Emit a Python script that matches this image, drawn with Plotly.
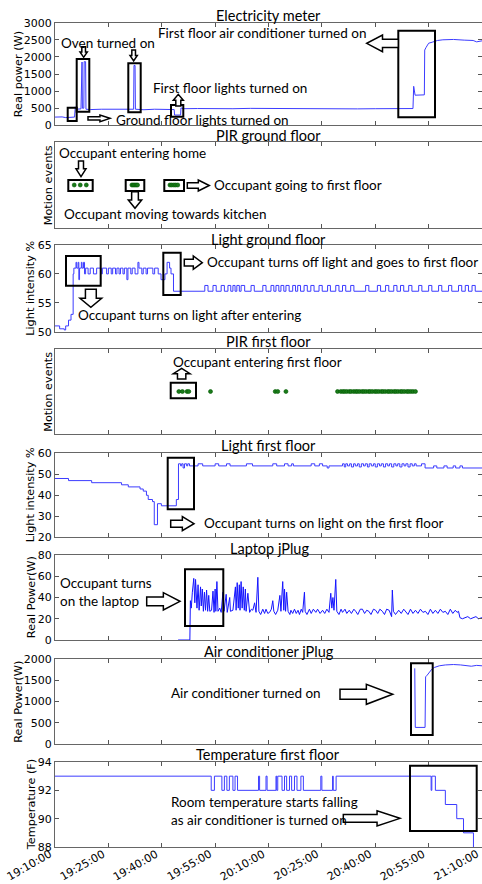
import plotly.graph_objects as go

W, H = 482, 884
ML = 55

# ---------------- data (minutes after 19:10:00) ----------------
tick_minutes = [0, 15, 30, 45, 60, 75, 90, 105, 120]
tick_labels = ["19:10:00", "19:25:00", "19:40:00", "19:55:00", "20:10:00",
               "20:25:00", "20:40:00", "20:55:00", "21:10:00"]

elec_t = [0, 2.0, 3.0, 4.5, 5.5, 5.7, 6.0, 7.3, 7.4, 7.6,
          7.7, 8.1, 8.2, 8.6, 8.7, 10, 13, 16, 19, 22.1,
          22.2, 22.5, 22.6, 25, 28, 31, 33.5, 33.6, 35.3, 35.4,
          36, 40, 45, 50, 55, 60, 65, 70, 75, 80,
          85, 90, 95, 100.6, 100.8, 101.2, 103.8, 103.9, 104.3, 105.0,
          106.0, 107.5, 109.0, 112, 115, 117.5, 118.5, 120]
elec_w = [240, 245, 225, 230, 240, 540, 470, 480, 1850, 1850,
          500, 500, 1860, 1860, 470, 460, 470, 465, 460, 470,
          1750, 1750, 470, 455, 470, 460, 460, 300, 300, 510,
          485, 490, 480, 485, 495, 490, 480, 485, 490, 485,
          480, 485, 490, 490, 1140, 880, 890, 2200, 2280, 2400,
          2430, 2480, 2500, 2510, 2490, 2480, 2440, 2470]

pir_ground_t = [5.4, 7.1, 8.8, 21.6, 22.0, 22.4, 22.8, 23.2,
                32.3, 32.8, 33.4, 33.9, 34.5]

gl_t = [0, 1.3, 2.6, 3.0, 3.8, 4.5, 5.1, 5.3, 5.9, 6.1,
        6.5, 6.7, 6.9, 7.4, 7.6, 8.0, 8.3, 8.6, 9.3, 9.9,
        10.8, 11.7, 13.0, 13.3, 14.5, 15.0, 15.8, 16.2, 17.0, 17.4,
        18.0, 18.4, 19.1, 19.5, 20.2, 20.5, 21.3, 21.7, 22.5, 23.3,
        23.6, 24.4, 24.8, 25.6, 26.0, 27.5, 28.0, 29.0, 29.8, 30.9,
        31.5, 32.2, 32.6, 33.3]
gl_v = [51, 50.5, 50.3, 51, 52, 53, 60, 61, 62, 61,
        62, 59, 61, 62, 61, 62, 60, 61, 60, 61,
        60, 61, 60, 61, 60, 61, 60, 61, 60, 61,
        60, 61, 60, 61, 59, 61, 60, 61, 60, 62,
        61, 60, 61, 60, 61, 60, 61, 60, 59, 60,
        62, 61, 60, 57]
gl_pulse_on = [42.1, 44.4, 46.7, 48.6, 50.0, 51.1, 52.3, 55.1, 58.4, 60.7,
               62.1, 63.5, 64.9, 66.8, 68.2, 70.0, 71.9, 74.2, 76.6, 78.9,
               80.8, 83.1, 87.3, 90.6, 92.9, 95.2, 97.1, 99.4, 102.2, 105.0,
               107.8, 110.6, 113.4, 115.3, 117.2]
gl_pulse_off = [43.0, 45.3, 47.6, 49.4, 50.6, 51.8, 53.3, 56.0, 59.3, 61.5,
                62.9, 64.3, 65.8, 67.6, 69.0, 70.9, 72.8, 75.1, 77.4, 79.8,
                81.7, 84.0, 88.2, 91.5, 93.8, 96.1, 98.0, 100.3, 103.1, 105.9,
                108.7, 111.5, 114.3, 116.2, 118.1]

pir_first_t = [34.8, 35.8, 37.1, 37.6, 43.7, 61.9, 62.6, 64.9,
               79.4, 80.3, 80.9, 81.4, 82.0, 82.7, 83.2, 83.9, 84.5, 85.0,
               85.6, 86.3, 86.8, 87.4, 88.1, 88.6, 89.2, 89.9, 90.4, 91.0,
               91.7, 92.2, 92.8, 93.5, 94.0, 94.6, 95.3, 95.8, 96.4, 97.1,
               97.6, 98.2, 98.9, 99.4, 100.0, 100.6, 101.3]

lf_t = [0, 3.8, 10.3, 18.7, 20.6, 23.9, 24.8, 25.7, 26.2, 27.4,
        27.9, 28.8, 29.9, 34.1, 34.7, 35.3, 35.6, 36.0, 36.4, 37.0,
        37.3, 37.8, 40.2, 41.5, 45.0, 46.0, 48.2, 49.2, 53.8, 55.5,
        61.2, 62.3, 64.5, 65.5, 66.5, 67.0, 72.0, 73.0, 74.3, 75.2,
        76.5, 77.0, 80.8, 81.3, 81.7, 82.2, 82.8, 83.3, 83.9, 84.4,
        85.0, 85.5, 86.1, 86.7, 87.2, 87.8, 88.3, 88.9, 89.5, 90.0,
        90.6, 91.2, 91.7, 92.3, 92.9, 93.5, 94.0, 94.6, 95.2, 95.8,
        96.3, 96.9, 97.5, 98.1, 98.6, 99.2, 99.8, 100.4, 101.0, 101.5,
        103.0, 104.0, 106.4, 107.3, 109.3, 110.2, 111.9, 112.6, 113.8, 114.5, 120]
lf_v = [48, 47, 46, 45, 44, 43, 42, 40, 38, 37,
        26, 36, 35, 38, 55, 54, 55, 53, 55, 54,
        55, 54, 55, 54, 55, 54, 55, 54, 55, 54,
        55, 54, 55, 54, 55, 54, 55, 54, 55, 54,
        53, 54, 55, 53.5, 55, 54, 55, 53.5, 55, 54,
        55, 53.5, 55, 54, 55, 53.5, 55, 54, 55, 53.5,
        55, 54, 55, 53.5, 55, 54, 55, 53.5, 55, 54,
        55, 53.5, 55, 54, 55, 53.5, 55, 54, 55, 54,
        55, 53, 54, 53, 54, 53, 54, 53, 54, 53, 53]

lap_t = [34.6, 37.9, 38.05, 38.3, 38.6, 39.0, 39.3, 39.5, 39.9, 40.2,
         40.5, 40.9, 41.1, 41.4, 41.7, 42.0, 42.3, 42.6, 42.9, 43.2,
         43.5, 44.0, 44.4, 44.7, 45.0, 45.2, 45.5, 45.8, 46.3, 46.7,
         47.2, 47.5, 48.1, 48.4, 49.1, 49.3, 50.0, 50.7, 50.9, 51.2,
         51.5, 51.8, 52.0, 52.3, 52.6, 52.9, 53.2, 53.5, 53.7, 54.2,
         54.7, 55.2, 55.6, 56.1, 56.5, 57.0, 57.3, 57.8, 58.4, 58.9,
         59.3, 59.8, 60.3, 60.8, 61.2, 61.5, 62.0, 62.6, 63.2, 63.5,
         64.0, 64.3, 64.5, 64.8, 65.1, 65.5, 66.0, 66.3, 66.8, 67.3,
         67.8, 68.3, 68.7, 69.2, 69.6, 70.1, 70.3, 70.8, 71.5, 72.0,
         72.6, 73.3, 73.8, 74.5, 75.2, 75.8, 76.4, 77.0, 77.5, 77.8,
         78.1, 78.4, 78.9, 79.2, 79.8, 80.4, 80.8, 81.5, 82.0, 82.7,
         83.3, 84.0, 84.5, 85.1, 85.8, 86.4, 87.0, 87.6, 88.2, 88.8,
         89.5, 90.1, 90.7, 91.3, 92.0, 92.6, 93.2, 93.9, 94.6, 94.8,
         95.1, 95.7, 96.6, 97.3, 98.0, 98.5, 99.2, 99.9, 100.6, 101.3,
         102.0, 102.7, 103.4, 104.1, 104.8, 105.5, 106.2, 106.9, 107.6, 108.3,
         109.0, 109.7, 110.4, 111.1, 111.8, 112.5, 113.0, 113.4, 113.8, 114.5,
         115.3, 116.0, 116.8, 117.5, 118.3, 119.0, 120]
lap_w = [0, 0, 37, 30, 45, 58, 35, 57, 30, 52,
         28, 50, 32, 48, 27, 45, 28, 47, 27, 42,
         27, 28, 46, 26, 48, 27, 55, 27, 30, 26,
         45, 27, 43, 26, 40, 27, 28, 50, 28, 54,
         30, 52, 28, 55, 30, 50, 28, 48, 27, 44,
         26, 29, 28, 35, 26, 59, 27, 24, 29, 25,
         29, 25, 26, 29, 37, 27, 24, 28, 42, 27,
         55, 28, 48, 27, 45, 27, 24, 28, 25, 29,
         25, 28, 24, 29, 26, 45, 27, 24, 29, 25,
         29, 26, 29, 25, 28, 25, 29, 26, 44, 30,
         40, 28, 57, 27, 24, 29, 26, 29, 25, 28,
         25, 29, 27, 24, 29, 29, 25, 28, 27, 24,
         29, 28, 25, 29, 27, 24, 29, 28, 22, 47,
         27, 24, 28, 25, 29, 27, 24, 29, 25, 28,
         25, 29, 26, 27, 24, 29, 25, 28, 25, 29,
         26, 27, 24, 29, 25, 28, 26, 27, 21, 20,
         21, 22, 20, 21, 22, 20, 21]

ac_t = [101.1, 101.25, 104.0, 104.15, 104.6, 105.2, 105.9, 106.6, 108.0, 109.7,
        112.0, 114.0, 115.5, 117.0, 118.5, 120]
ac_w = [1780, 390, 390, 1580, 1620, 1700, 1760, 1800, 1840, 1860,
        1870, 1860, 1840, 1830, 1850, 1840]

temp_t = [0, 43.9, 44.8, 46.9, 47.6, 48.3, 49.0, 50.0, 50.6, 51.3,
          57.2, 57.5, 59.3, 59.6, 62.1, 62.3, 62.6, 63.8, 64.5, 65.1,
          65.9, 66.5, 67.3, 68.0, 69.1, 69.8, 74.7, 75.0, 78.0, 78.2,
          79.0, 105.7, 105.9, 106.9, 109.7, 112.9, 114.8, 117.6, 120]
temp_f = [93, 92, 93, 92, 93, 92, 93, 92, 93, 92,
          93, 92, 93, 92, 93, 92, 93, 92, 93, 92,
          93, 92, 93, 92, 93, 92, 93, 92, 93, 92,
          93, 92, 93, 92, 91, 90, 89, 87, 87]

panel_titles = ["Electricity meter", "PIR ground floor", "Light ground floor",
                "PIR first floor", "Light first floor", "Laptop jPlug",
                "Air conditioner jPlug", "Temperature first floor"]
y_titles = ["Real power (W)", "Motion events", "Light intensity %", "Motion events",
            "Light intensity %", "Real Power(W)", "Real Power(W)", "Temperature (F)"]
y_ranges = [[0, 3000], [0, 2], [50, 65], [0, 2], [20, 60], [0, 80], [0, 2000], [88, 94]]
y_ticks = [[0, 500, 1000, 1500, 2000, 2500, 3000], [], [50, 55, 60, 65], [],
           [20, 30, 40, 50, 60], [0, 20, 40, 60, 80], [0, 500, 1000, 1500, 2000],
           [88, 90, 92, 94]]

# ---------------- layout helpers (pixel positions) ----------------
panel_px = [(22.7, 125.3), (142.3, 227.7), (245, 331.7), (349, 434),
            (453.3, 537.3), (555, 640), (659, 744), (762, 847)]
ytitle_x_px = [18.3, 48.3, 30.5, 48.3, 30.0, 31.7, 18.3, 31.7]

def PX(x):
    return (x - ML) / (W - ML)

def PY(y):
    return 1 - y / H

FONT = "Lato, Open Sans, sans-serif"
MPL_FONT = "DejaVu Sans"
LINE = "rgb(60,60,255)"
DOT = "#005a00"
NOTE_SIZE = 13.5
TICK_SIZE = 11

fig = go.Figure()

def ax(i):
    return ("x" if i == 0 else f"x{i+1}"), ("y" if i == 0 else f"y{i+1}")

gl_full_t = list(gl_t)
gl_full_v = list(gl_v)
for on, off in zip(gl_pulse_on, gl_pulse_off):
    gl_full_t += [on, off]
    gl_full_v += [58, 57]
gl_full_t.append(120)
gl_full_v.append(57)

series = [
    (0, elec_t, elec_w, "linear", LINE),
    (2, gl_full_t, gl_full_v, "hv", LINE),
    (4, lf_t, lf_v, "hv", LINE),
    (5, lap_t, lap_w, "linear", "rgb(20,20,255)"),
    (6, ac_t, ac_w, "linear", LINE),
    (7, temp_t, temp_f, "hv", LINE),
]
for i, xs, ys, shape, col in series:
    xa, ya = ax(i)
    fig.add_trace(go.Scatter(x=xs, y=ys, mode="lines", xaxis=xa, yaxis=ya,
                             line=dict(color=col, width=1, shape=shape),
                             hoverinfo="skip"))

for i, ts in [(1, pir_ground_t), (3, pir_first_t)]:
    xa, ya = ax(i)
    fig.add_trace(go.Scatter(x=ts, y=[1] * len(ts), mode="markers", xaxis=xa, yaxis=ya,
                             marker=dict(color="#1a7a1a", size=4,
                                         line=dict(color=DOT, width=0.6)),
                             hoverinfo="skip"))

layout = dict(width=W, height=H, margin=dict(l=ML, r=0, t=0, b=0),
              plot_bgcolor="white", paper_bgcolor="white", showlegend=False,
              font=dict(family=FONT, size=13, color="black"))

for i in range(8):
    top, bot = panel_px[i]
    xkey = "xaxis" if i == 0 else f"xaxis{i+1}"
    ykey = "yaxis" if i == 0 else f"yaxis{i+1}"
    xa, ya = ax(i)
    layout[xkey] = dict(domain=[0, 1], range=[0, 120], anchor=ya,
                        tickmode="array", tickvals=tick_minutes, ticktext=tick_labels,
                        showticklabels=False,
                        ticks="inside", ticklen=4, tickcolor="#555",
                        showline=True, linecolor="#666", linewidth=1, mirror="ticks",
                        showgrid=False, zeroline=False, automargin=False)
    has_ticks = len(y_ticks[i]) > 0
    layout[ykey] = dict(domain=[PY(bot), PY(top)], range=y_ranges[i], anchor=xa,
                        tickmode="array", tickvals=y_ticks[i],
                        showticklabels=has_ticks,
                        ticks="inside" if has_ticks else "", ticklen=4, tickcolor="#555",
                        showline=True, linecolor="#666", linewidth=1, mirror="ticks",
                        showgrid=False, zeroline=False, automargin=False,
                        tickfont=dict(size=TICK_SIZE, family=MPL_FONT))

fig.update_layout(**layout)

# y-axis titles (rotated)
for i in range(8):
    top, bot = panel_px[i]
    fig.add_annotation(x=PX(ytitle_x_px[i]), y=PY((top + bot) / 2), xref="paper", yref="paper",
                       text=y_titles[i], showarrow=False, textangle=-90,
                       xanchor="center", yanchor="middle",
                       font=dict(size=11.3, family=MPL_FONT))

# rotated time labels under the bottom panel (right/top aligned at each tick)
for tv, tl in zip(tick_minutes, tick_labels):
    fig.add_annotation(x=tv, xref="x8", y=PY(846.5), yref="paper", text=tl,
                       showarrow=False, textangle=-30, xanchor="right", yanchor="top",
                       borderpad=0, font=dict(size=TICK_SIZE, family=MPL_FONT))

# ---------------- annotations ----------------
title_pos = [(268.5, 15), (268.3, 135.7), (268.3, 239.3), (268.3, 341.7),
             (268.3, 445), (269, 548.3), (269, 651), (268.3, 754)]
for (x, y), t in zip(title_pos, panel_titles):
    fig.add_annotation(x=PX(x), y=PY(y), xref="paper", yref="paper", text=t,
                       showarrow=False, xanchor="center", yanchor="middle",
                       font=dict(size=14.5, family=FONT))

notes = [
    (60, 42.7, "Oven turned on"),
    (151.7, 88.3, "First floor lights turned on"),
    (115, 120, "Ground floor lights turned on"),
    (156.7, 33, "First floor air conditioner turned on"),
    (58.3, 153.3, "Occupant entering home"),
    (213.3, 185, "Occupant going to first floor"),
    (63.3, 214.3, "Occupant moving towards kitchen"),
    (76.7, 315, "Occupant turns on light after entering"),
    (206, 261.7, "Occupant turns off light and goes to first floor"),
    (171.7, 361.7, "Occupant entering first floor"),
    (202.7, 522.7, "Occupant turns on light on the first floor"),
    (59.3, 592.2, "Occupant turns<br>on the laptop"),
    (170, 693.3, "Air conditioner turned on"),
    (170, 811, "Room temperature starts falling<br>as air conditioner is turned on"),
]
for x, y, t in notes:
    fig.add_annotation(x=PX(x), y=PY(y), xref="paper", yref="paper", text=t,
                       showarrow=False, xanchor="left", yanchor="middle", align="left",
                       borderpad=0, font=dict(size=NOTE_SIZE, family=FONT))

boxes = [
    (67.7, 107.7, 76.7, 121), (76.7, 59, 89.3, 111.7), (128.3, 63.3, 140.7, 112.3),
    (171, 105, 183.3, 116.7), (398.3, 30.7, 435, 117.3),
    (68.3, 180, 92.7, 191), (125.7, 180, 144.3, 191), (164.3, 180, 184, 191),
    (66, 256, 100.7, 285.7), (163.3, 252.7, 180.7, 295),
    (170.7, 382.7, 196, 398.3),
    (167.7, 457.7, 194, 509.3),
    (185, 569.3, 223.3, 626),
    (411, 663.3, 432.7, 735),
    (410, 765.7, 476.7, 831),
]
for x0, y0, x1, y1 in boxes:
    fig.add_shape(type="rect", xref="paper", yref="paper",
                  x0=PX(x0), x1=PX(x1), y0=PY(y1), y1=PY(y0),
                  line=dict(color="black", width=2), fillcolor="rgba(0,0,0,0)")

arrows = [
    (80, 46.7, 87.3, 57.3, "d"), (130, 50, 137.3, 61, "d"), (173.3, 94.3, 183.3, 106, "u"),
    (88, 115, 110, 121.7, "r"), (366.7, 35, 398.3, 51.7, "l"),
    (76, 161, 86, 176.7, "d"), (128.3, 191.7, 141.7, 208.3, "d"), (187.3, 180, 209.3, 191, "r"),
    (80, 289.3, 101.7, 307.3, "d"), (184.3, 256, 202.3, 269.3, "r"),
    (173.3, 368.3, 190, 379, "u"),
    (170.7, 516.7, 194, 530.7, "r"),
    (146.7, 592.7, 180, 610, "r"),
    (340, 684.3, 392.7, 704.3, "r"),
    (343.3, 810.7, 400, 826, "r"),
]

def arrow_path(x0, y0, x1, y1, d):
    if d in "lr":
        L, C = x1 - x0, y1 - y0
    else:
        L, C = y1 - y0, x1 - x0
    hl = min(0.5 * L, 1.5 * C)
    sh = 0.25 * C
    loc = [(0, -sh), (L - hl, -sh), (L - hl, -C / 2), (L, 0),
           (L - hl, C / 2), (L - hl, sh), (0, sh)]
    cx, cy = (x0 + x1) / 2, (y0 + y1) / 2
    pts = []
    for u, v in loc:
        if d == "r":
            X, Y = x0 + u, cy + v
        elif d == "l":
            X, Y = x1 - u, cy + v
        elif d == "d":
            X, Y = cx + v, y0 + u
        else:
            X, Y = cx + v, y1 - u
        pts.append(f"{PX(X):.5f},{PY(Y):.5f}")
    return "M " + " L ".join(pts) + " Z"

for x0, y0, x1, y1, d in arrows:
    fig.add_shape(type="path", xref="paper", yref="paper",
                  path=arrow_path(x0, y0, x1, y1, d),
                  line=dict(color="black", width=1.5), fillcolor="white")

fig.write_html("out.html", config={"displayModeBar": False},
               post_script="document.body.style.margin='0';document.body.style.overflow='hidden';")
